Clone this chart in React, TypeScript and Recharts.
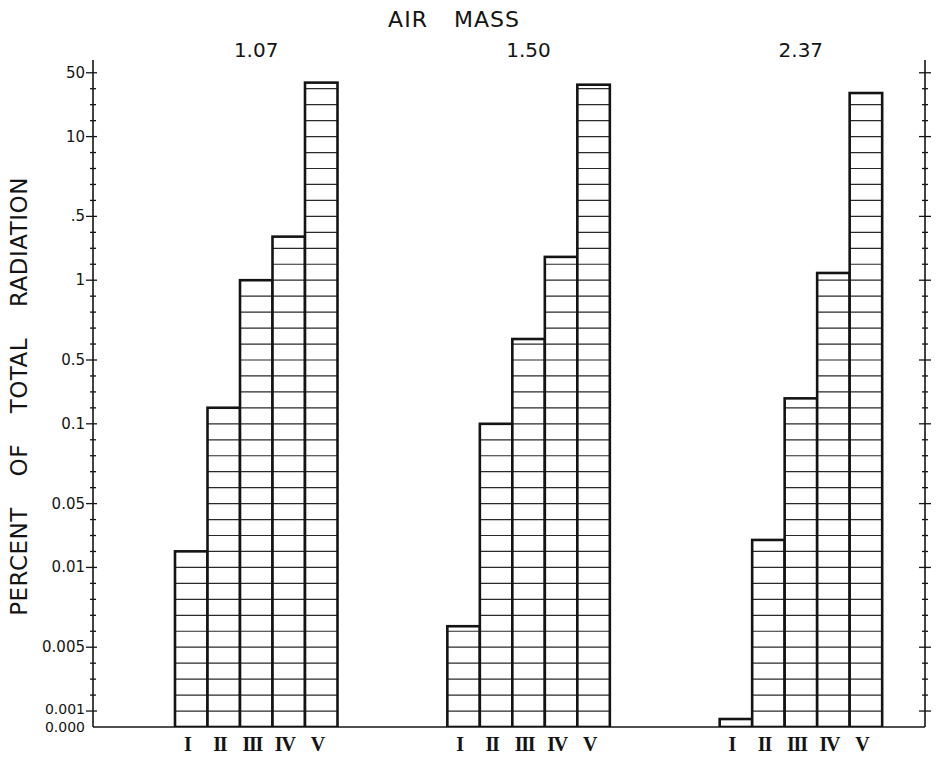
import React from 'react';
import { ComposedChart, Bar, Line, XAxis, YAxis, LabelList } from 'recharts';

// Categories (air mass) and spectral bands
const AIR_MASSES = ['1.07', '1.50', '2.37'];
const BANDS = ['I', 'II', 'III', 'IV', 'V'];

// Percent of total radiation per band, one value per air mass
const BAND_I = [0.015, 0.006, 0.0005];
const BAND_II = [0.15, 0.1, 0.02];
const BAND_III = [1.0, 0.6, 0.19];
const BAND_IV = [3.0, 1.8, 1.2];
const BAND_V = [39, 37, 30];

// Axis tick values, their printed labels, and the grid step each sits on
const TICK_VALUES = [0, 0.001, 0.005, 0.01, 0.05, 0.1, 0.5, 1, 5, 10, 50];
const TICK_LABELS = ['0.000', '0.001', '0.005', '0.01', '0.05', '0.1', '0.5', '1', '.5', '10', '50'];
const TICK_STEPS = [0, 1, 5, 10, 14, 19, 23, 28, 32, 37, 41];
const AXIS_TOP = 41.8;

const SERIES = [BAND_I, BAND_II, BAND_III, BAND_IV, BAND_V];

function toStep(v: number): number {
  if (v <= 0) return 0;
  if (v <= TICK_VALUES[1]) return (v / TICK_VALUES[1]) * TICK_STEPS[1];
  const n = TICK_VALUES.length;
  for (let i = 1; i < n - 1; i++) {
    const a = TICK_VALUES[i];
    const b = TICK_VALUES[i + 1];
    if (v <= b || i === n - 2) {
      const f = (Math.log(v) - Math.log(a)) / (Math.log(b) - Math.log(a));
      return TICK_STEPS[i] + f * (TICK_STEPS[i + 1] - TICK_STEPS[i]);
    }
  }
  return TICK_STEPS[n - 1];
}

const data = AIR_MASSES.map((m, i) => {
  const row: any = { mass: m };
  BANDS.forEach((b, j) => {
    row[b] = toStep(SERIES[j][i]);
  });
  return row;
});

const GRID_TICKS = Array.from({ length: TICK_STEPS[TICK_STEPS.length - 1] + 1 }, (_, i) => i);

const INK = '#141414';
const SANS = '"DejaVu Sans", sans-serif';

const makeHatchBar = (key: string) => (props: any) => {
  const { x, y, width, height, payload } = props;
  if (!height || height <= 0) return <g />;
  const u = payload[key];
  const ppu = height / u;
  const lines: any[] = [];
  for (let k = 1; k < u - 0.15; k++) {
    const yy = y + height - k * ppu;
    lines.push(<line key={k} x1={x} x2={x + width} y1={yy} y2={yy} stroke="#2a2a2a" strokeWidth={1.2} />);
  }
  return (
    <g>
      <rect x={x} y={y} width={width} height={height} fill="#fff" stroke="none" />
      {lines}
      <rect x={x} y={y} width={width} height={height} fill="none" stroke={INK} strokeWidth={2.6} />
    </g>
  );
};

const makeNumeral = (label: string) => (props: any) => {
  const { x, y, width, height } = props;
  return (
    <text
      x={x + width / 2 - 4}
      y={y + height + 24}
      textAnchor="middle"
      fontFamily='"Liberation Serif", serif'
      fontWeight="bold"
      fontSize={20}
      fill={INK}
      style={{ letterSpacing: -1.2 }}
    >
      {label}
    </text>
  );
};

const LeftTick = (props: any) => {
  const { x, y, payload } = props;
  const u = payload.value;
  const idx = TICK_STEPS.indexOf(u);
  const major = idx >= 0;
  return (
    <g>
      {u > 0 && (
        <line x1={x - (major ? 7 : 3)} x2={x + (major ? 4 : 3)} y1={y} y2={y} stroke={INK} strokeWidth={1.3} />
      )}
      {major && (
        <text
          x={x - 8}
          y={y + (u === 0 ? 0 : u === 1 ? -2 : 0)}
          textAnchor="end"
          dominantBaseline="central"
          fontFamily={SANS}
          fontSize={u <= 1 ? 14 : 15}
          fill={INK}
        >
          {TICK_LABELS[idx]}
        </text>
      )}
    </g>
  );
};

const RightTick = (props: any) => {
  const { x, y, payload } = props;
  const u = payload.value;
  if (u <= 0) return <g />;
  const major = TICK_STEPS.indexOf(u) >= 0;
  const s = major ? 6 : 3;
  return (
    <g>
      <line x1={x - s} x2={x + s} y1={y} y2={y} stroke={INK} strokeWidth={1.3} />
    </g>
  );
};

const TopTick = (props: any) => {
  const { x, y, payload } = props;
  return (
    <text x={x} y={y - 3} textAnchor="middle" fontFamily={SANS} fontSize={20} fill={INK}>
      {payload.value}
    </text>
  );
};

const TitleLabel = (props: any) => {
  const vb = props.viewBox || { x: 93, y: 0, width: 832, height: 60 };
  return (
    <text
      x={vb.x + vb.width / 2 - 55}
      y={vb.y + 27}
      textAnchor="middle"
      fontFamily={SANS}
      fontSize={22}
      fill={INK}
      style={{ wordSpacing: 18, letterSpacing: 1 }}
    >
      AIR MASS
    </text>
  );
};

const YTitle = (props: any) => {
  const vb = props.viewBox || { x: 0, y: 60, width: 93, height: 667 };
  const cx = vb.x + 19;
  const cy = vb.y + vb.height / 2 + 3;
  return (
    <text
      x={cx}
      y={cy}
      transform={`rotate(-90, ${cx}, ${cy})`}
      textAnchor="middle"
      dominantBaseline="central"
      fontFamily={SANS}
      fontSize={23}
      fill={INK}
      style={{ wordSpacing: 23, letterSpacing: 0.5 }}
    >
      PERCENT OF TOTAL RADIATION
    </text>
  );
};

const PADDING = { left: 27, right: -12 };

export default function App() {
  return (
    <div style={{ position: 'absolute', left: 0, top: 0, background: '#fff' }}>
      <ComposedChart
        width={937}
        height={758}
        data={data}
        margin={{ top: 0, right: 0, bottom: 0, left: 0 }}
        barGap={0}
        barCategoryGap={55}
      >
        <XAxis
          xAxisId="bottom"
          dataKey="mass"
          orientation="bottom"
          height={31}
          tick={false}
          tickLine={false}
          axisLine={{ stroke: INK, strokeWidth: 1.6 }}
          padding={PADDING}
        />
        <XAxis
          xAxisId="top"
          dataKey="mass"
          orientation="top"
          height={60}
          axisLine={false}
          tickLine={false}
          tickSize={0}
          tickMargin={0}
          tick={<TopTick />}
          padding={PADDING}
          label={<TitleLabel />}
        />
        <YAxis
          yAxisId="left"
          orientation="left"
          type="number"
          domain={[0, AXIS_TOP]}
          allowDataOverflow
          ticks={GRID_TICKS}
          interval={0}
          width={93}
          tickSize={0}
          tickMargin={0}
          tickLine={false}
          axisLine={{ stroke: INK, strokeWidth: 1.6 }}
          tick={<LeftTick />}
          label={<YTitle />}
        />
        <YAxis
          yAxisId="right"
          orientation="right"
          type="number"
          domain={[0, AXIS_TOP]}
          allowDataOverflow
          ticks={GRID_TICKS}
          interval={0}
          width={12}
          tickSize={0}
          tickMargin={0}
          tickLine={false}
          axisLine={{ stroke: INK, strokeWidth: 1.6 }}
          tick={(p: any) => <RightTick {...p} />}
        />
        {BANDS.map((b) => (
          <Bar
            key={b}
            dataKey={b}
            xAxisId="bottom"
            yAxisId="left"
            barSize={32.5}
            isAnimationActive={false}
            shape={makeHatchBar(b)}
          >
            <LabelList dataKey={b} content={makeNumeral(b)} />
          </Bar>
        ))}
        <Line
          dataKey="V"
          xAxisId="bottom"
          yAxisId="right"
          stroke="none"
          dot={false}
          activeDot={false}
          legendType="none"
          isAnimationActive={false}
        />
      </ComposedChart>
    </div>
  );
}
